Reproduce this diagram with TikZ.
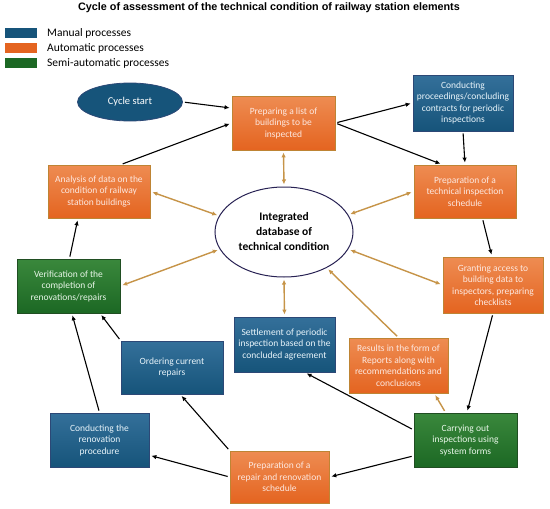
\documentclass[tikz,border=0pt]{standalone}
\usepackage{fontspec}
\setmainfont{Carlito}
\newfontfamily\titlefont{Liberation Sans}
\usetikzlibrary{arrows.meta,shapes.geometric}

\definecolor{bluetop}{RGB}{52,112,154}
\definecolor{bluebot}{RGB}{22,84,122}
\definecolor{blueline}{RGB}{44,72,118}
\definecolor{bluetext}{RGB}{232,244,250}
\definecolor{orangetop}{RGB}{238,140,82}
\definecolor{orangebot}{RGB}{228,100,32}
\definecolor{orangeline}{RGB}{190,132,52}
\definecolor{orangetext}{RGB}{253,232,224}
\definecolor{greentop}{RGB}{58,136,60}
\definecolor{greenbot}{RGB}{28,104,36}
\definecolor{greenline}{RGB}{32,78,34}
\definecolor{greentext}{RGB}{232,246,232}
\definecolor{goldline}{RGB}{198,148,72}
\definecolor{dbline}{RGB}{40,34,84}

\tikzset{
  box/.style={rectangle, align=center, inner sep=1pt, line width=0.8pt,
    font=\fontsize{9.5}{11.5}\selectfont},
  manual/.style={box, draw=blueline, top color=bluetop, bottom color=bluebot, text=bluetext},
  automatic/.style={box, draw=orangeline, top color=orangetop, bottom color=orangebot, text=orangetext},
  semiauto/.style={box, draw=greenline, top color=greentop, bottom color=greenbot, text=greentext},
  flow/.style={->, line width=1.1pt, shorten >=2pt, shorten <=2pt},
  dblink/.style={<->, draw=goldline, line width=1.4pt, shorten >=2pt, shorten <=2pt},
  legendkey/.style={rectangle, minimum width=32, minimum height=10, inner sep=0pt},
  legendtext/.style={anchor=west, font=\fontsize{11.5}{13}\selectfont, inner sep=0pt}
}

\begin{document}
\begin{tikzpicture}[x=1pt, y=-1pt, >={Latex[length=5pt,width=4.5pt]}]
\useasboundingbox (0,0) rectangle (550,509);

\node[font=\titlefont\bfseries\fontsize{10.8}{12}\selectfont] (title) at (269,8)
  {Cycle of assessment of the technical condition of railway station elements};

\node[legendkey, fill=bluebot] (keyman) at (21,33) {};
\node[legendkey, fill=orangebot] (keyauto) at (21,48) {};
\node[legendkey, fill=greenbot] (keysemi) at (21,63) {};
\node[legendtext] (txtman) at (47,33) {Manual processes};
\node[legendtext] (txtauto) at (47,48) {Automatic processes};
\node[legendtext] (txtsemi) at (47,63) {Semi-automatic processes};

\node[ellipse, draw=blueline, fill=bluebot, line width=0.8pt, text=white,
  minimum width=105, minimum height=38, font=\fontsize{10.5}{12}\selectfont] (start) at (130,102) {Cycle start};
\node[ellipse, draw=dbline, fill=white, line width=1pt, minimum width=138, minimum height=90,
  align=center, inner sep=0pt, font=\bfseries\fontsize{11.5}{15}\selectfont] (db) at (284,232)
  {Integrated\\database of\\technical condition};

\node[automatic, minimum width=103, minimum height=54] (list) at (283.5,123)
  {Preparing a list of\\buildings to be\\inspected};
\node[manual, minimum width=100, minimum height=56] (proc) at (463,103)
  {Conducting\\proceedings/concluding\\contracts for periodic\\inspections};
\node[automatic, minimum width=102, minimum height=53] (tech) at (465,191.5)
  {Preparation of a\\technical inspection\\schedule};
\node[automatic, minimum width=102, minimum height=53] (anal) at (99,191.5)
  {Analysis of data on the\\condition of railway\\station buildings};
\node[automatic, minimum width=100, minimum height=56] (grant) at (493,285)
  {Granting access to\\building data to\\inspectors, preparing\\checklists};
\node[semiauto, minimum width=103, minimum height=54] (verif) at (68.5,286)
  {Verification of the\\completion of\\renovations/repairs};
\node[manual, minimum width=101, minimum height=55] (settle) at (284.5,344.5)
  {Settlement of periodic\\inspection based on the\\concluded agreement};
\node[manual, minimum width=102, minimum height=53] (order) at (172,367.5)
  {Ordering current\\repairs};
\node[automatic, minimum width=99, minimum height=55] (result) at (398.5,365.5)
  {Results in the form of\\Reports along with\\recommendations and\\conclusions};
\node[manual, minimum width=99, minimum height=54] (renov) at (99.5,440)
  {Conducting the\\renovation\\procedure};
\node[semiauto, minimum width=103, minimum height=54] (carry) at (465.5,440)
  {Carrying out\\inspections using\\system forms};
\node[automatic, minimum width=99, minimum height=52] (repair) at (279.5,477)
  {Preparation of a\\repair and renovation\\schedule};

\draw[flow] (start.east) -- (list.164);
\draw[flow] (anal.51) -- (list.west);
\draw[flow] (list.east) -- (proc.west);
\draw[flow] (list.east) -- (tech.130);
\draw[flow] (proc.south) -- (tech.north);
\draw[flow] (tech.-57) -- (grant.92);
\draw[flow] (grant.south) -- (carry.87);
\draw[flow] (carry.169) -- (settle.-54);
\draw[flow] (carry.197) -- (repair.east);
\draw[flow] (repair.north west) -- (order.-73);
\draw[flow] (repair.west) -- (renov.-17);
\draw[flow] (order.north west) -- (verif.-41);
\draw[flow] (renov.north) -- (verif.-83);
\draw[flow] (verif.88) -- (anal.-128);

\draw[dblink] (list.south) -- (db.north);
\draw[dblink] (anal.east) -- (db.166);
\draw[dblink] (tech.west) -- (db.15);
\draw[dblink] (grant.west) -- (db.-15);
\draw[dblink] (verif.east) -- (db.195);
\draw[dblink] (db.south) -- (settle.north);
\draw[dblink, <-] (db.-40) -- (result.north);
\draw[dblink, ->] (carry.126) -- (result.-38);
\end{tikzpicture}
\end{document}
